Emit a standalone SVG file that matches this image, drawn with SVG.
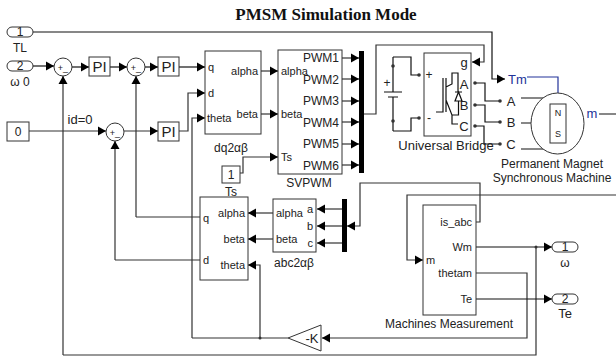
<svg xmlns="http://www.w3.org/2000/svg" width="616" height="357" viewBox="0 0 616 357">
<defs>
<marker id="a" markerUnits="userSpaceOnUse" markerWidth="9" markerHeight="10" refX="8" refY="5" orient="auto"><path d="M0 0.500L8 5L0 9.500Z" fill="#000"/></marker>
</defs>
<style>
text{font-family:"Liberation Sans",Arial,sans-serif;fill:#222;font-size:12px}
text.p{font-size:11px}
.b{fill:#fff;stroke:#333;stroke-width:1}
.w{fill:none;stroke:#333;stroke-width:1.2}
.k{fill:none;stroke:#111;stroke-width:1.2}
.ar{marker-end:url(#a)}
.m{text-anchor:middle}
.e{text-anchor:end}
text.pi{font-size:15px;text-anchor:middle}
text.l{font-size:13px}
text.s{font-size:9px}
.d{fill:#333}
.bl{fill:none;stroke:#223399;stroke-width:1.2}
text.t{fill:#223399;font-size:13px}
</style>
<rect width="616" height="357" fill="#fff"/>
<text x="326" y="20" class="m" style="font-family:'Liberation Serif',serif;font-weight:bold;font-size:17px;fill:#111">PMSM Simulation Mode</text>
<g id="connectors">
<path class="k ar" d="M33 32H492V79H505"/>
<path class="k ar" d="M33 66H54"/>
<path class="k ar" d="M72 67H89"/>
<path class="k ar" d="M110 67H127"/>
<path class="k ar" d="M145 67H158"/>
<path class="k ar" d="M179 67H205"/>
<path class="w ar" d="M29 131H106"/>
<path class="w ar" d="M124 131H158"/>
<path class="w ar" d="M179 131H188V93H205"/>
<path class="w ar" d="M192 338V118H205"/>
<path class="w ar" d="M261 71H278"/>
<path class="w ar" d="M261 114H278"/>
<path class="w ar" d="M240 173H243V157H278"/>
<path class="w ar" d="M63 355V76"/>
<path class="w ar" d="M136 217V76"/>
<path class="w ar" d="M115 260V141"/>
<path class="w" d="M136 217H200M115 260H200M63 355H536V247"/>
<path class="w ar" d="M342 58H359"/><path class="w ar" d="M342 79H359"/><path class="w ar" d="M342 101H359"/><path class="w ar" d="M342 122H359"/><path class="w ar" d="M342 144H359"/><path class="w ar" d="M342 165H359"/>
<path class="w ar" d="M364 114H376V45H484V62H472"/>
<path class="k" d="M393 57H411V75H419M393 131H411V118H419"/>
<path class="k" d="M475 83H485V101H500M475 105H485V122H500M475 126H484V144H500"/>
<path class="w ar" d="M273 213H248"/>
<path class="w ar" d="M273 239H248"/>
<path class="w ar" d="M342 209H317"/><path class="w ar" d="M342 226H317"/><path class="w ar" d="M342 243H317"/>
<path class="w ar" d="M260 338V265H248"/>
<path class="w" d="M288 338H192"/>
<path class="w ar" d="M476 273H527V338H322"/>
<path class="w ar" d="M476 222H480V183H360V226H347"/>
<path class="w ar" d="M616 195H407V260H423"/>
<path class="k ar" d="M476 247H552"/>
<path class="k ar" d="M476 299H552"/>
<circle class="d" cx="536" cy="247" r="1.500"/>
<circle class="d" cx="260" cy="338" r="1.500"/>
</g>
<g id="in1"><rect class="b" x="7" y="27" width="26" height="10" rx="5"/><text x="20" y="36" class="m">1</text><text x="20" y="52" class="m">TL</text></g>
<g id="in2"><rect class="b" x="7" y="61" width="26" height="10" rx="5"/><text x="20" y="70" class="m">2</text><text x="20" y="86" class="m">ω 0</text></g>
<g id="sum1"><circle class="b" cx="63" cy="67" r="9"/><text x="63" y="71" class="m s">+_</text></g>
<g id="pi1"><rect class="b" x="89" y="57" width="21" height="19"/><text x="99.500" y="72" class="pi">PI</text></g>
<g id="sum2"><circle class="b" cx="136" cy="67" r="9"/><text x="136" y="71" class="m s">+_</text></g>
<g id="pi2"><rect class="b" x="158" y="57" width="21" height="19"/><text x="168.500" y="72" class="pi">PI</text></g>
<g id="const0"><rect class="b" x="7" y="122" width="22" height="19"/><text x="18" y="136" class="m">0</text><text x="80" y="124" class="m l">id=0</text></g>
<g id="sum3"><circle class="b" cx="115" cy="132" r="9"/><text x="115" y="136" class="m s">+_</text></g>
<g id="pi3"><rect class="b" x="158" y="122" width="21" height="19"/><text x="168.500" y="137" class="pi">PI</text></g>
<g id="dq"><rect class="b" x="205" y="51" width="56" height="83"/><text x="208" y="71" class="p">q</text><text x="208" y="97" class="p">d</text><text x="207" y="122" class="p">theta</text><text x="258" y="75" class="e p">alpha</text><text x="258" y="118" class="e p">beta</text><text x="231" y="152" class="m">dq2αβ</text></g>
<g id="svpwm"><rect class="b" x="278" y="50" width="64" height="124"/><text x="281" y="75" class="p">alpha</text><text x="281" y="118" class="p">beta</text><text x="281" y="161" class="p">Ts</text><text x="339" y="62" class="e">PWM1</text><text x="339" y="84" class="e">PWM2</text><text x="339" y="105" class="e">PWM3</text><text x="339" y="127" class="e">PWM4</text><text x="339" y="148" class="e">PWM5</text><text x="339" y="170" class="e">PWM6</text><text x="309" y="187" class="m">SVPWM</text></g>
<g id="ts"><rect class="b" x="222" y="166" width="18" height="17"/><text x="231" y="179" class="m">1</text><text x="231" y="196" class="m">Ts</text></g>
<g id="mux1"><rect x="359" y="51" width="5" height="122" fill="#000"/></g>
<g id="battery"><path class="k" d="M393 57V92M384 92H402M388 97H398M393 97V131"/><circle class="d" cx="393" cy="66" r="1.800"/><circle class="d" cx="393" cy="121" r="1.800"/><text x="387" y="87" class="m">+</text></g>
<g id="bridge"><rect class="b" x="424" y="53" width="47" height="83"/><circle class="d" cx="419" cy="75" r="1.800"/><circle class="d" cx="419" cy="118" r="1.800"/><circle class="d" cx="475" cy="83" r="1.800"/><circle class="d" cx="475" cy="105" r="1.800"/><circle class="d" cx="475" cy="126" r="1.800"/>
<path class="k" d="M443 78V112H436M446 78V112M446 87L452 84V73H458V92M455 92H462M455 101H462L458.500 92ZM458.500 101V115H452M446 100L452 115V124H458"/>
<text x="429" y="79" class="m">+</text><text x="429" y="122" class="m">-</text><text x="464" y="67" class="m l">g</text><text x="464" y="89" class="m l">A</text><text x="464" y="110" class="m l">B</text><text x="464" y="131" class="m l">C</text><text x="446" y="150" class="m l">Universal Bridge</text></g>
<g id="pmsm"><circle class="d" cx="500" cy="101" r="1.800"/><circle class="d" cx="500" cy="122" r="1.800"/><circle class="d" cx="500" cy="144" r="1.800"/>
<path class="bl" d="M527 77H558V93"/>
<path class="k" d="M521 98H543M521 123H531M521 149H543M599 114H616"/>
<ellipse class="b" cx="557.500" cy="123.500" rx="26.500" ry="30.500"/><rect class="b" x="550" y="104" width="16" height="39"/>
<text x="558" y="116" class="m s">N</text><text x="558" y="137" class="m s">S</text>
<text x="508" y="84" class="t">Tm</text><text x="592" y="118" class="m t">m</text>
<text x="511" y="106" class="m l">A</text><text x="511" y="127" class="m l">B</text><text x="511" y="149" class="m l">C</text>
<text x="552" y="168" class="m">Permanent Magnet</text><text x="552" y="182" class="m">Synchronous Machine</text></g>
<g id="idq"><rect class="b" x="200" y="197" width="48" height="83"/><text x="203" y="222" class="p">q</text><text x="203" y="264" class="p">d</text><text x="245" y="217" class="e p">alpha</text><text x="245" y="243" class="e p">beta</text><text x="245" y="269" class="e p">theta</text></g>
<g id="abc"><rect class="b" x="273" y="199" width="43" height="53"/><text x="276" y="217" class="p">alpha</text><text x="276" y="243" class="p">beta</text><text x="313" y="213" class="e p">a</text><text x="313" y="230" class="e p">b</text><text x="313" y="247" class="e p">c</text><text x="294" y="267" class="m">abc2αβ</text></g>
<g id="mux2"><rect x="342" y="199" width="5" height="53" fill="#000"/></g>
<g id="gain"><path class="b" d="M288 338L321 325V351Z"/><text x="312" y="343" class="m l">-K</text></g>
<g id="meas"><rect class="b" x="423" y="205" width="53" height="110"/><text x="472" y="226" class="e p">is_abc</text><text x="472" y="251" class="e p">Wm</text><text x="472" y="277" class="e p">thetam</text><text x="472" y="303" class="e p">Te</text><text x="426" y="264" class="p">m</text><text x="449" y="328" class="m">Machines Measurement</text></g>
<g id="out1"><rect class="b" x="552" y="242" width="26" height="10" rx="5"/><text x="565" y="251" class="m">1</text><text x="565" y="267" class="m">ω</text></g>
<g id="out2"><rect class="b" x="552" y="294" width="26" height="10" rx="5"/><text x="565" y="303" class="m">2</text><text x="565" y="318" class="m l">Te</text></g>
</svg>
